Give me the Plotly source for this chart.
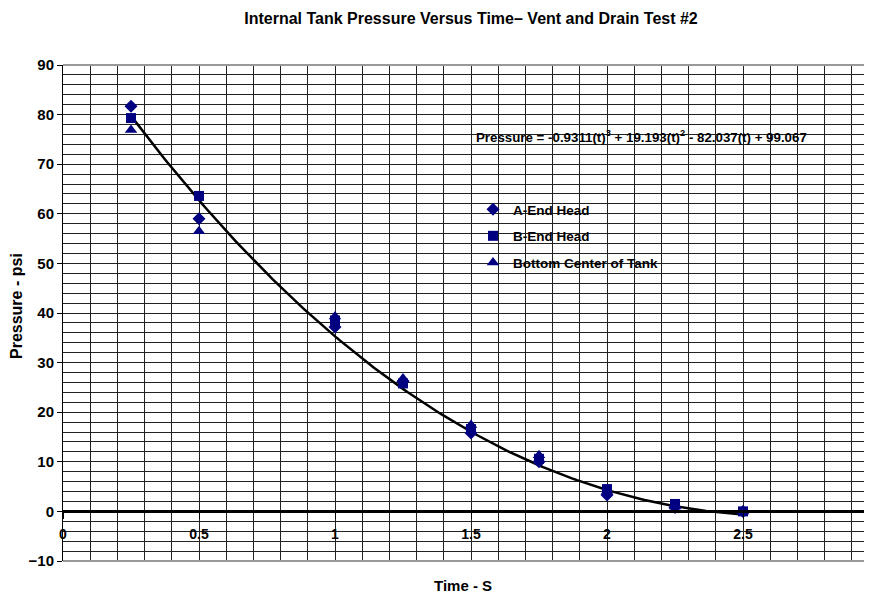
import numpy as np
import plotly.graph_objects as go

# ---- data ----
time_s = [0.25, 0.5, 1.0, 1.25, 1.5, 1.75, 2.0, 2.25, 2.5]
a_end_head = [81.7, 59.0, 37.2, 26.2, 15.8, 10.0, 3.3, 0.8, 0.0]
b_end_head = [79.3, 63.6, 38.5, 25.8, 16.6, 10.6, 4.5, 1.5, 0.0]
bottom_center = [76.9, 56.5, 39.3, 26.8, 17.4, 11.3, 4.0, 1.0, 0.0]

# trendline coefficients shown on the chart (t^3, t^2, t, const)
trend_coef = [-0.9311, 19.193, -82.037, 99.067]
trend_t_start, trend_t_end = 0.25, 2.5

x_ticks = [0, 0.5, 1, 1.5, 2, 2.5]
x_tick_labels = ["0", "0.5", "1", "1.5", "2", "2.5"]
y_ticks = [-10, 0, 10, 20, 30, 40, 50, 60, 70, 80, 90]

FONT = "Arial, Liberation Sans, sans-serif"
NAVY = "#000080"

# page body has an 8px margin; size the figure so it fills the window
OFF = 8
W, H = 872 - OFF, 595 - OFF
PLOT_L, PLOT_T, PLOT_B = 63, 65, 561      # in window pixels
PLOT_H = PLOT_B - PLOT_T
PLOT_W = 872 - PLOT_L


def px_x(xw):
    return (xw - PLOT_L) / PLOT_W


def px_y(yw):
    return (PLOT_B - yw) / PLOT_H


t_fit = np.linspace(trend_t_start, trend_t_end, 200)
p_fit = np.polyval(trend_coef, t_fit)

fig = go.Figure()
fig.add_trace(go.Scatter(x=t_fit, y=p_fit, mode="lines",
                         line=dict(color="black", width=2.5),
                         showlegend=False, hoverinfo="skip"))
fig.add_trace(go.Scatter(x=time_s, y=a_end_head, mode="markers", name="A-End Head",
                         legendgroup="a",
                         marker=dict(symbol="diamond", size=10, color=NAVY)))
fig.add_trace(go.Scatter(x=time_s, y=b_end_head, mode="markers", name="B-End Head",
                         legendgroup="b",
                         marker=dict(symbol="square", size=10, color=NAVY)))
fig.add_trace(go.Scatter(x=time_s, y=bottom_center, mode="markers",
                         name="Bottom Center of Tank", legendgroup="c",
                         marker=dict(symbol="triangle-up", size=11, color=NAVY)))

y_min, y_max = -10, 90
zero_pos = (0 - y_min) / (y_max - y_min)

fig.update_layout(
    width=W, height=H,
    margin=dict(l=PLOT_L - OFF, r=0, t=PLOT_T - OFF, b=H - (PLOT_B - OFF), pad=0),
    paper_bgcolor="white", plot_bgcolor="white",
    font=dict(family=FONT, color="black"),
    title=dict(text="Internal Tank Pressure Versus Time– Vent and Drain Test #2",
               font=dict(family=FONT, size=16, weight="bold", color="black"),
               x=px_x(471), xref="paper", xanchor="center",
               y=1 - (18 - OFF) / H, yref="container", yanchor="middle"),
    xaxis=dict(range=[0, PLOT_W / 272.0], tickvals=x_ticks, ticktext=x_tick_labels,
               anchor="free", position=zero_pos,
               showline=True, linecolor="black", linewidth=2.5,
               ticks="outside", ticklen=6, tickwidth=1, tickcolor="black",
               ticklabelstandoff=3,
               tickfont=dict(family=FONT, size=14, weight="bold", color="black"),
               showgrid=True, gridcolor="#222", gridwidth=1,
               minor=dict(dtick=0.1, showgrid=True, gridcolor="#222", gridwidth=1),
               zeroline=False, fixedrange=True),
    yaxis=dict(range=[y_min, y_max], tickvals=y_ticks,
               showline=True, linecolor="black", linewidth=1,
               ticks="outside", ticklen=5, tickcolor="black",
               tickfont=dict(family=FONT, size=15, weight="bold", color="black"),
               showgrid=True, gridcolor="#222", gridwidth=1,
               minor=dict(dtick=2, showgrid=True, gridcolor="#222", gridwidth=1),
               zeroline=False, fixedrange=True),
    legend=dict(x=px_x(473), y=px_y(194), xanchor="left", yanchor="top",
                bgcolor="rgba(0,0,0,0)", borderwidth=0,
                font=dict(family=FONT, size=13.5, weight="bold", color="black"),
                tracegroupgap=6),
    shapes=[
        dict(type="line", xref="paper", yref="paper", x0=0, x1=1, y0=1, y1=1,
             line=dict(color="#999", width=2)),
        dict(type="line", xref="paper", yref="paper", x0=0, x1=1, y0=0, y1=0,
             line=dict(color="#999", width=2)),
    ],
    annotations=[
        dict(text="Pressure = -0.9311(t)<sup>3</sup> + 19.193(t)<sup>2</sup> - 82.037(t) + 99.067",
             xref="paper", yref="paper", x=px_x(474), y=px_y(136),
             xanchor="left", yanchor="middle", showarrow=False,
             font=dict(family=FONT, size=13.3, weight="bold", color="black")),
        dict(text="Time - S", xref="paper", yref="paper", x=px_x(463), y=px_y(585),
             xanchor="center", yanchor="middle", showarrow=False,
             font=dict(family=FONT, size=15, weight="bold", color="black")),
        dict(text="Pressure - psi", xref="paper", yref="paper", x=px_x(16), y=px_y(306),
             xanchor="center", yanchor="middle", textangle=-90,
             showarrow=False,
             font=dict(family=FONT, size=16, weight="bold", color="black")),
    ],
)

fig.write_html("out.html")
